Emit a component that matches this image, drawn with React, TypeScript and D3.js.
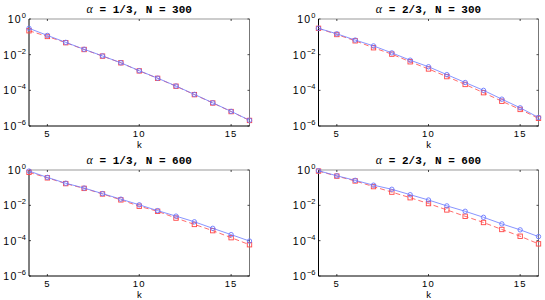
import React from 'react';
import * as d3 from 'd3';

// k values on the x axis
const kValues = [4, 5, 6, 7, 8, 9, 10, 11, 12, 13, 14, 15, 16];

// panel titles
const alphaLabels = ['1/3', '2/3', '1/3', '2/3'];
const nLabels = ['300', '300', '600', '600'];

// blue (solid, circles) series per panel
const blue1 = [3.0e-1, 1.2e-1, 4.9e-2, 2.0e-2, 8.5e-3, 3.5e-3, 1.26e-3, 4.8e-4, 1.74e-4, 5.9e-5, 2.0e-5, 6.6e-6, 2.1e-6];
const blue2 = [3.0e-1, 1.48e-1, 6.6e-2, 3.1e-2, 1.26e-2, 4.9e-3, 2.1e-3, 7.6e-4, 2.75e-4, 1.0e-4, 3.2e-5, 1.05e-5, 3.0e-6];
const blue3 = [8.7e-1, 3.8e-1, 1.78e-1, 9.5e-2, 4.6e-2, 2.24e-2, 1.07e-2, 5.0e-3, 2.45e-3, 1.17e-3, 5.0e-4, 2.2e-4, 9.5e-5];
const blue4 = [9.1e-1, 4.7e-1, 2.6e-1, 1.38e-1, 8.1e-2, 4.0e-2, 2.0e-2, 9.3e-3, 4.6e-3, 2.1e-3, 8.9e-4, 4.1e-4, 1.7e-4];

// red (dashed, squares) series per panel
const red1 = [2.2e-1, 1.05e-1, 4.7e-2, 1.95e-2, 8.3e-3, 3.5e-3, 1.23e-3, 4.7e-4, 1.7e-4, 5.75e-5, 1.95e-5, 6.45e-6, 2.05e-6];
const red2 = [3.0e-1, 1.35e-1, 6.0e-2, 2.45e-2, 1.07e-2, 4.0e-3, 1.58e-3, 5.9e-4, 2.14e-4, 7.4e-5, 2.45e-5, 8.5e-6, 2.7e-6];
const red3 = [7.4e-1, 3.6e-1, 1.7e-1, 9.1e-2, 4.4e-2, 2.04e-2, 8.9e-3, 4.6e-3, 1.9e-3, 8.3e-4, 3.7e-4, 1.48e-4, 5.9e-5];
const red4 = [8.7e-1, 4.5e-1, 2.4e-1, 1.15e-1, 5.6e-2, 2.7e-2, 1.26e-2, 5.5e-3, 2.4e-3, 1.07e-3, 4.3e-4, 1.78e-4, 6.6e-5];

// axis ticks
const xTicks = [5, 10, 15];
const yTickExps = [0, -2, -4, -6];

const blueSeries = [blue1, blue2, blue3, blue4];
const redSeries = [red1, red2, red3, red4];

const BLUE = '#6a78ff';
const RED = '#ff4646';
const SANS = 'Liberation Sans, Arial, sans-serif';

// panel boxes: [left, top, right, bottom]
const boxes = [
  [29, 19, 249.5, 126],
  [318.5, 19, 538.5, 126],
  [29, 170, 249.5, 276],
  [318.5, 170, 538.5, 276],
];

const Panel = ({ idx }: { idx: number }) => {
  const [l, t, r, b] = boxes[idx];
  const x = d3.scaleLinear().domain([4, 16]).range([l, r]);
  const y = d3.scaleLog().domain([1e-6, 1]).range([b, t]);

  const line = d3.line<number>()
    .x((_, i) => x(kValues[i]))
    .y(d => y(d));

  const blue = blueSeries[idx];
  const red = redSeries[idx];

  return (
    <g>
      {/* box */}
      <line x1={l} x2={r} y1={t} y2={t} stroke="#999" strokeWidth={1} />
      <line x1={r} x2={r} y1={t} y2={b} stroke="#777" strokeWidth={1} />
      <line x1={l} x2={r} y1={b} y2={b} stroke="#000" strokeWidth={1} />
      <line x1={l} x2={l} y1={t} y2={b} stroke="#000" strokeWidth={1} />

      {/* x ticks */}
      {xTicks.map(v => (
        <g key={'x' + v}>
          <line x1={x(v)} x2={x(v)} y1={b} y2={b - 2} stroke="#000" strokeWidth={0.7} />
          <line x1={x(v)} x2={x(v)} y1={t} y2={t + 2} stroke="#000" strokeWidth={0.7} />
          <text x={x(v)} y={b + 11} textAnchor="middle" fontFamily={SANS} fontSize={9.5} letterSpacing={1.2}>
            {v}
          </text>
        </g>
      ))}

      {/* y ticks */}
      {yTickExps.map(e => (
        <g key={'y' + e}>
          <line x1={l} x2={l + 2} y1={y(Math.pow(10, e))} y2={y(Math.pow(10, e))} stroke="#000" strokeWidth={0.7} />
          <line x1={r} x2={r - 2} y1={y(Math.pow(10, e))} y2={y(Math.pow(10, e))} stroke="#000" strokeWidth={0.7} />
          <text x={l - 3} y={y(Math.pow(10, e)) + 4} textAnchor="end" fontFamily={SANS} fontSize={10.5} letterSpacing={1.2}>
            10
            <tspan dy={-5} fontSize={7.5} letterSpacing={0}>{e === 0 ? '0' : '\u2212' + -e}</tspan>
          </text>
        </g>
      ))}

      {/* red dashed series */}
      <path d={line(red) || ''} fill="none" stroke={RED} strokeWidth={0.8} strokeDasharray="5,3" />
      {red.map((v, i) => (
        <rect key={'r' + i} x={x(kValues[i]) - 2.2} y={y(v) - 2.2} width={4.4} height={4.4}
          fill="none" stroke={RED} strokeWidth={0.9} />
      ))}

      {/* blue solid series */}
      <path d={line(blue) || ''} fill="none" stroke={BLUE} strokeWidth={0.8} />
      {blue.map((v, i) => (
        <circle key={'b' + i} cx={x(kValues[i])} cy={y(v)} r={2.2}
          fill="none" stroke={BLUE} strokeWidth={0.9} />
      ))}

      {/* title */}
      <text x={(l + r) / 2} y={t - 6} textAnchor="middle" fontFamily="Liberation Mono, Courier New, monospace"
        fontWeight="bold" fontSize={11}>
        <tspan fontFamily="Liberation Serif, serif" fontStyle="italic" fontWeight="normal" fontSize={12}>α</tspan>
        {` = ${alphaLabels[idx]}, N = ${nLabels[idx]}`}
      </text>

      {/* x label */}
      <text x={(l + r) / 2} y={b + 22} textAnchor="middle" fontFamily={SANS} fontSize={9.5}>
        k
      </text>
    </g>
  );
};

export default function App() {
  return (
    <svg width={545} height={300} style={{ position: 'absolute', left: 0, top: 0, background: '#fff' }}>
      {[0, 1, 2, 3].map(i => <Panel key={i} idx={i} />)}
    </svg>
  );
}
